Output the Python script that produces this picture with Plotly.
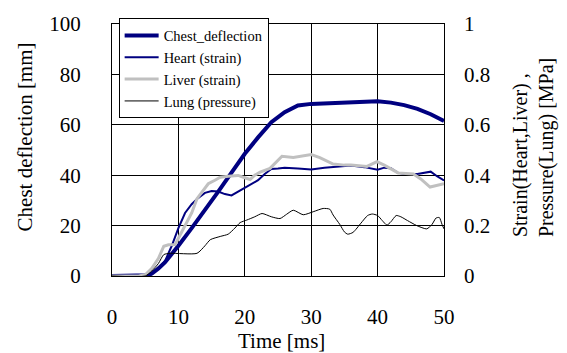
import plotly.graph_objects as go

# Chest deflection [mm] vs time [ms]
chest_t = [0, 4, 5, 5.5, 6, 7, 8, 9, 10, 12, 14, 16, 18, 20, 22, 24, 26, 27, 28, 30,
           32, 34, 36, 38, 40, 42, 44, 46, 48, 50]
chest_v = [0, 0, 0, 0.3, 1, 3, 5.5, 8.5, 12, 19, 26, 33.5, 41, 48.5, 55, 61, 65, 66.5,
           67.7, 68.3, 68.5, 68.7, 69, 69.3, 69.3, 68.8, 67.8, 66.3, 64.2, 61.5]

# Heart strain [-]
heart_t = [0, 5, 6, 7, 8, 9, 10, 11, 12, 13, 14, 15, 16, 17, 18, 19, 20, 21, 22, 23, 24,
           25, 26, 28, 30, 32, 34, 36, 38, 40, 41, 42, 43, 44, 46, 47, 48, 49, 50]
heart_v = [0, 0, 0.01, 0.03, 0.06, 0.12, 0.19, 0.25, 0.285, 0.31, 0.33, 0.337, 0.335,
           0.325, 0.32, 0.335, 0.35, 0.365, 0.38, 0.405, 0.425, 0.427, 0.43, 0.427, 0.423,
           0.43, 0.435, 0.438, 0.432, 0.422, 0.43, 0.428, 0.41, 0.405, 0.405, 0.41, 0.414,
           0.395, 0.379]

# Liver strain [-]
liver_t = [0, 4, 5, 6, 7, 7.8, 8.5, 9.5, 10, 11, 12, 12.8, 14, 14.5, 15.5, 16.3, 17.5, 19,
           20, 20.8, 21.5, 22.3, 23.8, 25, 25.6, 27.3, 29.1, 30, 31.3, 33.3, 35, 36, 38.4,
           39.9, 41, 43.1, 45.4, 46.5, 47.9, 49, 50]
liver_v = [0, 0, 0.005, 0.03, 0.07, 0.118, 0.124, 0.125, 0.15, 0.2, 0.25, 0.307, 0.35,
           0.366, 0.38, 0.392, 0.396, 0.399, 0.39, 0.383, 0.4, 0.412, 0.427, 0.46, 0.475,
           0.47, 0.48, 0.482, 0.47, 0.444, 0.44, 0.44, 0.435, 0.454, 0.44, 0.409, 0.405,
           0.385, 0.353, 0.36, 0.366]

# Lung pressure [MPa]
lung_t = [0, 5, 6, 7, 7.8, 8.8, 12.8, 14, 14.8, 16.3, 17.5, 18.5, 19.3, 20.3, 21.5, 22.6,
          24, 25.3, 26.3, 27.3, 28.8, 30.3, 31.8, 32.8, 33.3, 34.3, 35, 35.5, 36.3, 37.5,
          38.5, 39.2, 40, 40.7, 41.4, 42, 42.8, 43.5, 44.5, 45.9, 47.4, 48.2, 48.8, 49.3,
          49.7, 50]
lung_v = [0, 0, 0.02, 0.05, 0.085, 0.09, 0.09, 0.12, 0.144, 0.157, 0.166, 0.19, 0.212,
          0.222, 0.235, 0.248, 0.235, 0.228, 0.245, 0.261, 0.243, 0.255, 0.268, 0.265,
          0.242, 0.205, 0.175, 0.166, 0.173, 0.21, 0.24, 0.246, 0.24, 0.22, 0.202, 0.215,
          0.24, 0.235, 0.22, 0.2, 0.187, 0.205, 0.23, 0.232, 0.205, 0.187]

x_ticks = [0, 10, 20, 30, 40, 50]
y_ticks = [0, 20, 40, 60, 80, 100]
y2_ticks = [0, 0.2, 0.4, 0.6, 0.8, 1]
y2_labels = ["0", "0.2", "0.4", "0.6", "0.8", "1"]

FONT = "Liberation Serif"

fig = go.Figure()
fig.add_trace(go.Scatter(x=chest_t, y=chest_v, name="Chest_deflection", mode="lines",
                         line=dict(color="#000080", width=4)))
fig.add_trace(go.Scatter(x=heart_t, y=heart_v, name="Heart (strain)", mode="lines",
                         line=dict(color="#000080", width=2), yaxis="y2"))
fig.add_trace(go.Scatter(x=liver_t, y=liver_v, name="Liver (strain)", mode="lines",
                         line=dict(color="#c0c0c0", width=3), yaxis="y2"))
fig.add_trace(go.Scatter(x=lung_t, y=lung_v, name="Lung (pressure)", mode="lines",
                         line=dict(color="#000000", width=1, shape="spline", smoothing=0.6),
                         yaxis="y2"))

axis_common = dict(showline=True, linecolor="black", linewidth=1, mirror=True,
                   showgrid=True, gridcolor="black", gridwidth=1, zeroline=False,
                   ticks="", tickfont=dict(family=FONT, size=21, color="black"))

fig.update_layout(
    width=567, height=353,
    margin=dict(l=112, r=123, t=20, b=77),
    paper_bgcolor="white", plot_bgcolor="white",
    showlegend=True,
    font=dict(family=FONT, color="black"),
    xaxis=dict(range=[0, 50], tickvals=x_ticks, ticklabelstandoff=22, **axis_common),
    yaxis=dict(range=[0, 100], tickvals=y_ticks, ticklabelstandoff=26, **axis_common),
    yaxis2=dict(range=[0, 1], tickvals=y2_ticks, ticktext=y2_labels, overlaying="y",
                side="right", showline=False, showgrid=False, zeroline=False, ticks="",
                ticklabelstandoff=19,
                tickfont=dict(family=FONT, size=21, color="black")),
    legend=dict(x=0.02, y=1.022, xanchor="left", yanchor="top",
                bgcolor="white", bordercolor="black", borderwidth=1,
                font=dict(family=FONT, size=14.5, color="black"),
                itemwidth=34, tracegroupgap=0),
    annotations=[
        dict(text="Chest deflection [mm]", xref="paper", yref="paper",
             x=-0.262, y=0.55, xanchor="center", yanchor="middle", textangle=-90,
             showarrow=False, font=dict(family=FONT, size=21, color="black")),
        dict(text="Strain(Heart,Liver) ,<br>Pressure(Lung) [MPa]", xref="paper",
             yref="paper", x=1.27, y=0.51, xanchor="center", yanchor="middle",
             textangle=-90, showarrow=False, align="left",
             font=dict(family=FONT, size=20, color="black")),
        dict(text="Time [ms]", xref="paper", yref="paper", x=0.51, y=-0.258,
             xanchor="center", yanchor="middle", showarrow=False,
             font=dict(family=FONT, size=21, color="black")),
    ],
)

fig.write_html("out.html")
